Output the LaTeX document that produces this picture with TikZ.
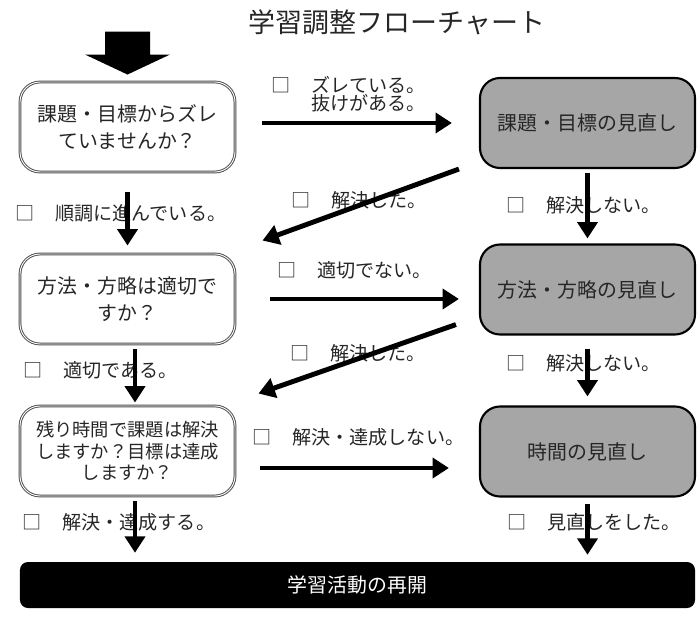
\documentclass[tikz,border=0pt]{standalone}
\usepackage{fontspec}
\setmainfont{Noto Sans CJK JP}
\usetikzlibrary{calc}
\usetikzlibrary{positioning}
\usetikzlibrary{arrows.meta}
\definecolor{reviewgray}{RGB}{166,166,166}
\newcommand{\chk}{□\hspace{1.1em}}

\begin{document}
\begin{tikzpicture}[x=0.03cm, y=-0.03cm,
    question/.style={rectangle, rounded corners=0.6cm, draw=black!70, double=white, double distance=0.8pt, line width=0.8pt, minimum width=6.45cm, minimum height=2.7cm, align=center, font=\fontsize{17}{23}\selectfont, text=black!85},
    review/.style={rectangle, rounded corners=0.6cm, draw=black, line width=1.8pt, fill=reviewgray, minimum width=6.45cm, minimum height=2.7cm, font=\fontsize{17}{23}\selectfont, text=black!85},
    choice/.style={anchor=west, inner sep=0pt, align=left, font=\fontsize{16.3}{15.5}\selectfont, text=black!85},
    flow/.style={-{Triangle[length=14pt,width=17pt]}, line width=4.2pt}]
            \useasboundingbox (0,0) rectangle (700,626);

            % Title
            \node[font=\fontsize{23}{23}\selectfont, text=black!85] (title) at (397,22) {学習調整フローチャート};

            % Questions
            \node[question] (q1) at (127.5,127) {課題・目標からズレ\\ていませんか？};
            \node[question] (q2) at (127.5,299) {方法・方略は適切で\\すか？};
            \node[question, font=\fontsize{15.6}{18.3}\selectfont] (q3) at (127.5,451) {残り時間で課題は解決\\しますか？目標は達成\\しますか？};

            % Reviews
            \node[review] (r1) at (587.5,123) {課題・目標の見直し};
            \node[review] (r2) at (587.5,289.5) {方法・方略の見直し};
            \node[review] (r3) at (587.5,451.5) {時間の見直し};

            % Restart
            \node[rectangle, rounded corners=0.24cm, fill=black, text=white, minimum width=20.25cm, minimum height=1.38cm, font=\fontsize{17}{17}\selectfont] (done) at (357.5,585) {学習活動の再開};

            % Start
            \fill ([shift={(0,-7)}]q1.north) -- ++(-42.5,-20) -- ++(20,0) -- ++(0,-23) -- ++(45,0) -- ++(0,23) -- ++(20,0) -- cycle;

            % Choices
            \node[choice] (c1) at (271,94) {\chk ズレている。\\\hphantom{\chk}抜けがある。};
            \node[choice] (c2) at (291,200) {\chk 解決した。};
            \node[choice] (c3) at (506,205) {\chk 解決しない。};
            \node[choice] (c4) at (15,213) {\chk 順調に進んでいる。};
            \node[choice] (c5) at (277,270) {\chk 適切でない。};
            \node[choice] (c6) at (290,353) {\chk 解決した。};
            \node[choice] (c7) at (506,363) {\chk 解決しない。};
            \node[choice] (c8) at (23,370) {\chk 適切である。};
            \node[choice] (c9) at (252,437) {\chk 解決・達成しない。};
            \node[choice] (c10) at (22,522) {\chk 解決・達成する。};
            \node[choice] (c11) at (507,522) {\chk 見直しをした。};

            % Left column
            \draw[flow, shorten <=0.6cm, shorten >=0.24cm] (q1.south) -- (q2.north);
            \draw[flow, shorten <=0.15cm, shorten >=0.09cm] ([shift={(7.5,0)}]q2.south) -- ([shift={(7.5,0)}]q3.north);
            \draw[flow, shorten <=0.15cm, shorten >=0.27cm] ([shift={(7.5,0)}]q3.south) -- ([shift={(7.5,0)}]q3.south |- done.north);

            % Right column
            \draw[flow, shorten <=0.12cm, shorten >=0.15cm] (r1.south) -- (r2.north);
            \draw[flow, shorten <=0.39cm, shorten >=0.27cm] (r2.south) -- (r3.north);
            \draw[flow, shorten <=0.18cm, shorten >=0.21cm] (r3.south) -- (r3.south |- done.north);

            % Across
            \draw[flow, shorten <=0.81cm, shorten >=0.81cm] (q1.east |- r1.west) -- (r1.west);
            \draw[flow, shorten <=1.05cm, shorten >=0.6cm] (q2.east) -- (q2.east -| r2.west);
            \draw[flow, shorten <=0.75cm, shorten >=0.9cm] ([shift={(0,17)}]q3.east) -- ([shift={(0,17)}]q3.east -| r3.west);

            % Back
            \draw[flow] ([shift={(-20,0)}]r1.south west) -- ([shift={(27,-13)}]q2.north east);
            \draw[flow] ([shift={(-23,-11)}]r2.south west) -- ([shift={(23,-12)}]q3.north east);

        \end{tikzpicture}
\end{document}
